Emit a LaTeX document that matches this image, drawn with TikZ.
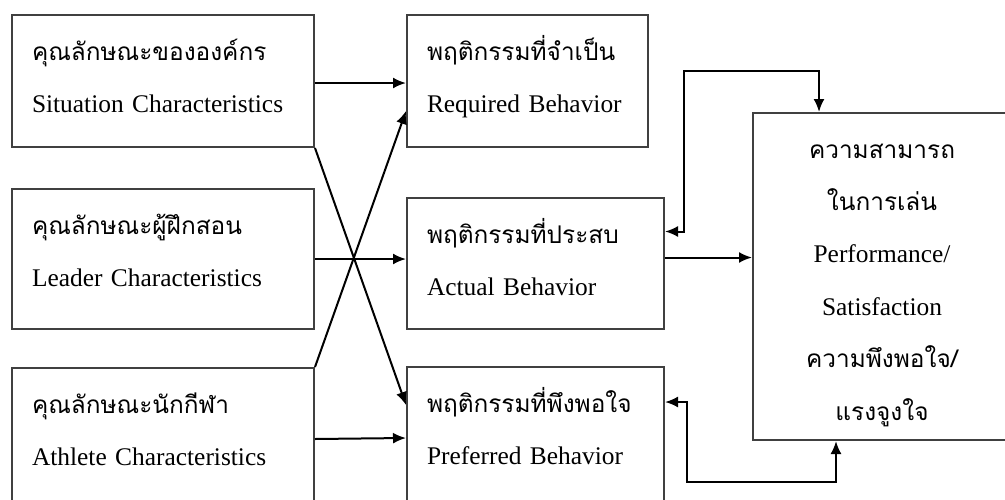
\documentclass[tikz,border=0pt]{standalone}
\usepackage{fontspec}
\setmainfont{Liberation Serif}
\newfontfamily\thai[Script=Thai, Scale=0.96]{Loma}
\usetikzlibrary{arrows.meta}

\begin{document}
\begin{tikzpicture}[x=1pt, y=-1pt,
                >={Latex[length=13pt, width=11pt]},
                graysquarednode/.style={rectangle, draw=black!75, line width=2pt, anchor=north west, align=left, inner xsep=20pt, inner ysep=0pt, text height=45pt, font=\fontsize{25.4}{52}\selectfont},
                linkline/.style={line width=2pt},
                ]
                \path[use as bounding box, clip] (0,0) rectangle (1005,499);

                \node[graysquarednode, text width=262pt, text depth=87pt] (S) at (11,14) {{\thai คุณลักษณะขององค์กร}\\Situation Characteristics};
                \node[graysquarednode, text width=262pt, text depth=95pt] (L) at (11,188) {{\thai คุณลักษณะผู้ฝึกสอน}\\Leader Characteristics};
                \node[graysquarednode, text width=262pt, text depth=97pt] (T) at (11,367) {{\thai คุณลักษณะนักกีฬา}\\Athlete Characteristics};

                \node[graysquarednode, text width=201pt, text depth=87pt] (R) at (406,14) {{\thai พฤติกรรมที่จำเป็น}\\Required Behavior};
                \node[graysquarednode, text width=217pt, text depth=86pt] (A) at (406,197) {{\thai พฤติกรรมที่ประสบ}\\Actual Behavior};
                \node[graysquarednode, text width=217pt, text depth=97pt] (P) at (406,366) {{\thai พฤติกรรมที่พึงพอใจ}\\Preferred Behavior};

                \node[graysquarednode, align=center, text width=218pt, text depth=282pt, font=\fontsize{25.4}{52.4}\selectfont] (O) at (752,112) {{\thai ความสามารถ}\\{\thai ในการเล่น}\\Performance/\\Satisfaction\\{\thai ความพึงพอใจ/}\\{\thai แรงจูงใจ}};

                \coordinate (a) at ([yshift=6pt]A.east);
                \coordinate (U) at (684,71);
                \coordinate (V) at (687,482);

                \draw[->, linkline] ([yshift=-2pt]S.east) -- ([yshift=-2pt]R.west);
                \draw[->, linkline] (L.east) -- (L.east -| A.west);
                \draw[->, linkline] (T.east) -- (P.west);
                \draw[->, linkline] (S.south east) -- ([yshift=33pt]P.west);
                \draw[->, linkline] (T.north east) -- ([yshift=-30pt]R.west);

                \draw[->, linkline] (a) -- (a -| O.west);
                \draw[<->, linkline] ([yshift=32pt]A.east) -| (U) -| ([xshift=-63pt]O.north);
                \draw[<->, linkline] ([yshift=36pt]P.east) -| (V) -| ([xshift=-46pt]O.south);
            \end{tikzpicture}
\end{document}
